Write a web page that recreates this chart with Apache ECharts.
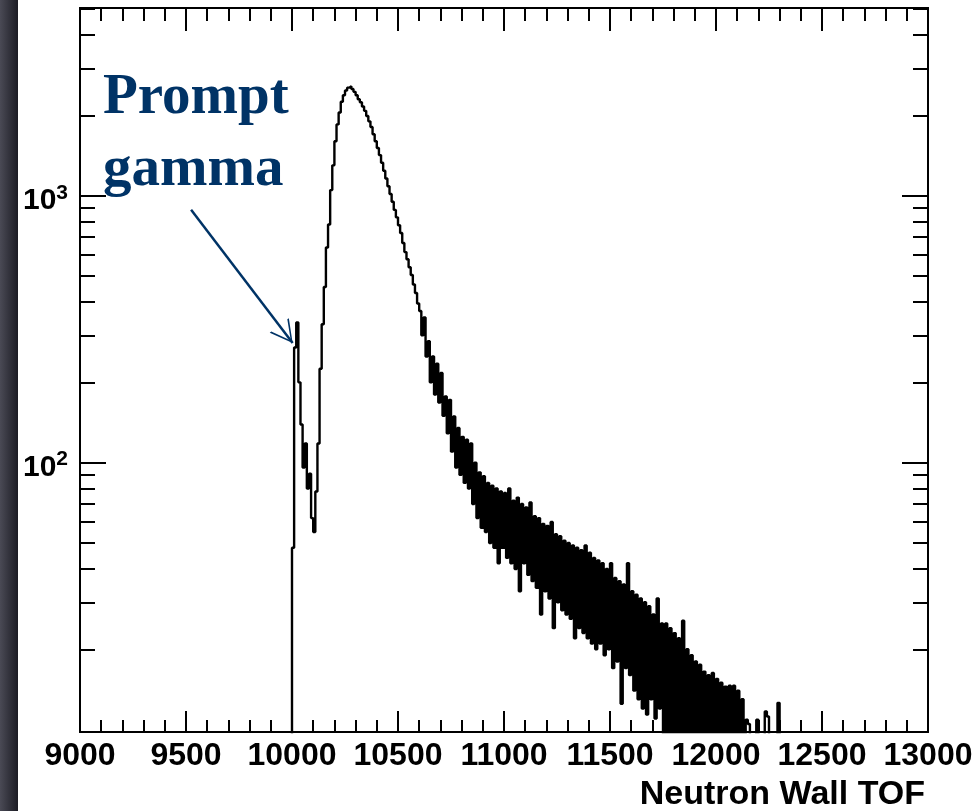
<!DOCTYPE html>
<html>
<head>
<meta charset="utf-8">
<script src="https://cdn.jsdelivr.net/npm/echarts@6/dist/echarts.min.js"></script>
<style>
html,body{margin:0;padding:0;background:#fff;}
#chart{width:978px;height:811px;}
</style>
</head>
<body>
<div id="chart"></div>
<script>
// ---- histogram data (bin width 10, first bin starts at 9990) ----
const binStart = 9990;
const binWidth = 10;
const promptRegion = [1, 48, 270, 335, 200, 139, 96, 118, 80, 91, 62, 55, 78, 118, 225];
const peakRegion = [330, 455, 640, 780, 1050, 1300, 1600, 1850, 2050, 2250, 2380, 2480, 2540, 2570, 2510,
  2450, 2380, 2300, 2240, 2160, 2080, 1990, 1900, 1810, 1700, 1600, 1510, 1420, 1330, 1240,
  1160, 1085, 1015, 950, 885, 830, 775, 725, 665, 615, 578, 540, 505, 465, 432, 395];
const tailRegion = [370, 300, 350, 250, 285, 200, 250, 180, 235, 168, 217, 150, 177, 129, 172,
  110, 149, 96, 135, 90, 125, 84, 122, 80, 118, 70, 100, 62, 92, 57,
  89, 55, 84, 50, 82, 48, 80, 42, 78, 48, 77, 44, 80, 42, 72,
  40, 74, 33, 70, 42, 68, 38, 71, 36, 63, 34, 62, 27, 59, 33,
  58, 31, 60, 24, 54, 30, 53, 28, 51, 27, 50, 26, 49, 22, 48,
  24, 47, 23, 49, 22, 46, 21, 44, 20, 43, 21, 42, 19, 40, 20,
  42, 17, 37, 18, 36, 12.5, 35, 17, 42, 16, 33, 14, 32, 13, 31,
  12, 30, 11.4, 29, 13, 27, 11, 31, 12, 25, 9, 25, 8, 24, 7,
  23, 8, 22, 7, 25.6, 8, 20, 6, 19, 7, 18, 6, 17.5, 6, 16.5,
  7, 16, 6, 16.3, 5, 15.5, 6, 15, 6, 14.5, 5, 14.6, 6, 14.6, 5,
  14, 6, 13, 4, 10.9, 10.5, 4, 4, 4, 10.9, 4, 4, 4, 11.7, 11.2,
  4, 4, 4, 4, 12.6, 4, 1];
const counts = promptRegion.concat(peakRegion, tailRegion);

// ---- axes ----
const xMin = 9000, xMax = 13000, xInterval = 500;
const yMin = 9.8, yMax = 5050;
const yMajorTicks = [100, 1000];
const yMinorTicks = [20, 30, 40, 50, 60, 70, 80, 90, 200, 300, 400, 500, 600, 700, 800, 900, 2000, 3000, 4000, 5000];
const xTitle = 'Neutron Wall TOF';

// ---- annotation ----
const noteText = 'Prompt\ngamma';
const arrowFrom = [9524, 886];
const arrowTo = [10003, 281];

const seriesData = counts.map((c, i) => [binStart + i * binWidth, c]);

const chart = echarts.init(document.getElementById('chart'), null, {renderer: 'canvas'});
const font = 'Liberation Sans, Arial, Helvetica, sans-serif';

function yAxisDef(pos, ticks, len, labels) {
  return {
    type: 'log', logBase: 10, min: yMin, max: yMax, position: pos,
    axisLine: {show: true, lineStyle: {color: '#000', width: 2}},
    axisTick: {show: true, inside: true, length: len, customValues: ticks, lineStyle: {color: '#000', width: 2}},
    splitLine: {show: false},
    minorTick: {show: false},
    axisLabel: labels ? {
      show: true, customValues: yMajorTicks, margin: 12, padding: [10, 0, 0, 0],
      formatter: v => '{b|10}{s|' + Math.round(Math.log10(v)) + '}',
      rich: {
        b: {fontSize: 30, fontWeight: 'bold', fontFamily: font, color: '#000'},
        s: {fontSize: 21, fontWeight: 'bold', fontFamily: font, color: '#000', padding: [0, 0, 16, 0]}
      }
    } : {show: false}
  };
}

function xAxisDef(pos, majorLen, minorLen, labels) {
  return {
    type: 'value', min: xMin, max: xMax, interval: xInterval, position: pos,
    axisLine: {show: true, onZero: false, lineStyle: {color: '#000', width: 2}},
    axisTick: {show: true, inside: true, length: majorLen, lineStyle: {color: '#000', width: 2}},
    minorTick: {show: true, splitNumber: 5, length: minorLen, lineStyle: {color: '#000', width: 2}},
    splitLine: {show: false},
    axisLabel: labels ? {show: true, fontSize: 32, fontWeight: 'bold', fontFamily: font, color: '#000', margin: 8,
      formatter: v => String(v),
      showMinLabel: true, showMaxLabel: true} : {show: false},
    name: labels ? xTitle : '',
    nameLocation: 'end', nameGap: -3,
    nameTextStyle: {fontSize: 34, fontWeight: 'bold', fontFamily: font, color: '#000',
      align: 'right', verticalAlign: 'top', padding: [46, 0, 0, 0]}
  };
}

const option = {
  backgroundColor: '#fff',
  animation: false,
  grid: {left: 80, right: 50, top: 8, bottom: 79, containLabel: false, outerBoundsMode: 'none'},
  xAxis: [xAxisDef('bottom', 21, 12, true), xAxisDef('top', 23, 13, false)],
  yAxis: [
    yAxisDef('left', yMajorTicks, 26, true),
    yAxisDef('left', yMinorTicks, 15, false),
    yAxisDef('right', yMajorTicks, 26, false),
    yAxisDef('right', yMinorTicks, 15, false)
  ],
  graphic: [
    {type: 'rect', left: 0, top: 0, shape: {width: 18, height: 811},
      style: {fill: new echarts.graphic.LinearGradient(0, 0, 1, 0, [
        {offset: 0, color: '#4a4a55'}, {offset: 1, color: '#1c1c24'}])}, z: 100},
    {type: 'text', left: 103, top: 62, z: 100,
      style: {text: noteText, font: 'bold 57px "Liberation Serif", "Times New Roman", serif',
        fill: '#003366', lineHeight: 72}}
  ],
  series: [{
    type: 'line', xAxisIndex: 0, yAxisIndex: 0,
    data: seriesData, step: 'end', showSymbol: false, symbol: 'none',
    clip: true,
    lineStyle: {color: '#000', width: 2.4},
    markLine: {
      silent: true, animation: false,
      symbol: ['none', 'path://M50,0 L100,100 L92,100 L50,14 L8,100 L0,100 Z'],
      symbolSize: [24, 22],
      symbolOffset: [0, [0, 11]],
      label: {show: false},
      lineStyle: {color: '#003366', width: 2.5, type: 'solid'},
      data: [[{coord: arrowFrom}, {coord: arrowTo}]]
    }
  }]
};
chart.setOption(option);
</script>
</body>
</html>
